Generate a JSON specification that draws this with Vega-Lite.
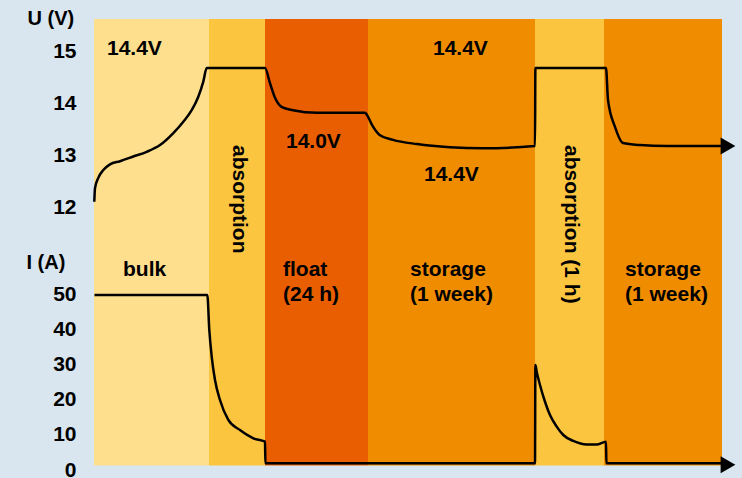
{
  "$schema": "https://vega.github.io/schema/vega-lite/v6.json",
  "width": 628,
  "height": 451,
  "autosize": {"type": "none"},
  "padding": {"left": 94, "top": 19, "right": 20, "bottom": 8},
  "background": "#d9e6ef",
  "config": {
    "view": {"stroke": null},
    "font": "Liberation Sans",
    "text": {"font": "Liberation Sans", "fontWeight": "bold", "fontSize": 21, "color": "#000000"}
  },
  "datasets": {
    "bands": [
      {"phase": "bulk", "t0": 0, "t1": 115, "top": 128.857, "bottom": 1.3},
      {"phase": "absorption", "t0": 115, "t1": 171, "top": 128.857, "bottom": 1.3},
      {"phase": "float", "t0": 171, "t1": 274, "top": 128.857, "bottom": 1.3},
      {"phase": "storage", "t0": 274, "t1": 441, "top": 128.857, "bottom": 1.3},
      {"phase": "absorption", "t0": 441, "t1": 510, "top": 128.857, "bottom": 1.3},
      {"phase": "storage", "t0": 510, "t1": 628, "top": 128.857, "bottom": 1.3}
    ],
    "current": [
      {"t": 0.5, "I": 50}, {"t": 113.3, "I": 50}, {"t": 115.3, "I": 40}, {"t": 117.7, "I": 32.4},
      {"t": 121, "I": 25.7}, {"t": 126, "I": 20}, {"t": 134.3, "I": 14.3}, {"t": 146, "I": 11.4},
      {"t": 159.3, "I": 9.06}, {"t": 171, "I": 8.1}, {"t": 171.4, "I": 1.9}, {"t": 441, "I": 1.9},
      {"t": 441.4, "I": 30}, {"t": 442.7, "I": 28.1}, {"t": 446, "I": 24.3}, {"t": 451, "I": 19.5},
      {"t": 456, "I": 15.7}, {"t": 462.7, "I": 12.4}, {"t": 469.3, "I": 10}, {"t": 479.3, "I": 8.3},
      {"t": 492.7, "I": 7.3}, {"t": 502.7, "I": 7.3}, {"t": 512, "I": 8.1},
      {"t": 512.4, "I": 1.9}, {"t": 628, "I": 1.9}
    ],
    "voltage": [
      {"t": 0.3, "V": 12.12}, {"t": 1, "V": 12.38}, {"t": 4.3, "V": 12.58}, {"t": 9.3, "V": 12.73},
      {"t": 16, "V": 12.84}, {"t": 26, "V": 12.9}, {"t": 39.3, "V": 12.99}, {"t": 52.7, "V": 13.08},
      {"t": 66, "V": 13.21}, {"t": 79.3, "V": 13.44}, {"t": 89.3, "V": 13.66}, {"t": 97.7, "V": 13.88},
      {"t": 104.3, "V": 14.14}, {"t": 109.3, "V": 14.43}, {"t": 112.7, "V": 14.69},
      {"t": 171, "V": 14.69}, {"t": 176, "V": 14.4}, {"t": 181, "V": 14.12}, {"t": 188, "V": 13.94},
      {"t": 199, "V": 13.88}, {"t": 223, "V": 13.83}, {"t": 271, "V": 13.83}, {"t": 273, "V": 13.79},
      {"t": 278, "V": 13.6}, {"t": 286, "V": 13.4}, {"t": 299, "V": 13.31}, {"t": 323, "V": 13.23},
      {"t": 356, "V": 13.17}, {"t": 389, "V": 13.15}, {"t": 441, "V": 13.19}, {"t": 441.4, "V": 14.69},
      {"t": 512, "V": 14.69}, {"t": 514, "V": 14.08}, {"t": 521, "V": 13.56}, {"t": 529, "V": 13.25},
      {"t": 546, "V": 13.21}, {"t": 573, "V": 13.19}, {"t": 628, "V": 13.19}
    ],
    "arrowI": [{"t": 634, "I": 1.5}],
    "arrowV": [{"t": 634, "V": 13.19}],
    "textI": [
      {"t": 29, "I": 57.14, "label": "bulk"},
      {"t": 189, "I": 57.14, "label": "float"},
      {"t": 189, "I": 50, "label": "(24 h)"},
      {"t": 316, "I": 57.14, "label": "storage"},
      {"t": 316, "I": 50, "label": "(1 week)"},
      {"t": 531, "I": 57.14, "label": "storage"},
      {"t": 531, "I": 50, "label": "(1 week)"}
    ],
    "textV": [
      {"t": 13, "V": 15.058, "label": "14.4V"},
      {"t": 192, "V": 13.269, "label": "14.0V"},
      {"t": 339, "V": 15.058, "label": "14.4V"},
      {"t": 330, "V": 12.635, "label": "14.4V"}
    ],
    "textRot": [
      {"t": 145, "V": 13.212, "label": "absorption"},
      {"t": 477, "V": 13.212, "label": "absorption (1 h)"}
    ]
  },
  "layer": [
    {
      "layer": [
        {
          "data": {"name": "bands"},
          "mark": {"type": "rect"},
          "encoding": {
            "x": {"field": "t0", "type": "quantitative", "scale": {"domain": [0, 628], "nice": false, "zero": false}, "axis": null},
            "x2": {"field": "t1"},
            "y": {"field": "top", "type": "quantitative", "scale": {"domain": [0, 128.857], "nice": false, "zero": false},
              "axis": {"orient": "left", "values": [0, 10, 20, 30, 40, 50], "title": "I (A)", "domain": false, "ticks": false, "grid": false,
                "labelPadding": 18, "labelFontSize": 21, "labelFontWeight": "bold", "labelColor": "#000000", "labelFont": "Liberation Sans",
                "labelFlush": false, "labelOverlap": false, "labelBound": false,
                "titleFont": "Liberation Sans", "titleFontSize": 20, "titleFontWeight": "bold", "titleColor": "#000000",
                "titleAngle": 0, "titleAlign": "left", "titleBaseline": "middle", "titleX": -68, "titleY": 243}},
            "y2": {"field": "bottom"},
            "color": {"field": "phase", "type": "nominal",
              "scale": {"domain": ["bulk", "absorption", "float", "storage"], "range": ["#fddf8e", "#fcc540", "#e95e00", "#f08c00"]},
              "legend": null}
          }
        },
        {
          "data": {"name": "current"},
          "mark": {"type": "line", "color": "#000000", "strokeWidth": 2.5, "interpolate": "monotone"},
          "encoding": {
            "x": {"field": "t", "type": "quantitative"},
            "y": {"field": "I", "type": "quantitative"}
          }
        },
        {
          "data": {"name": "arrowI"},
          "mark": {"type": "point", "shape": "triangle-right", "filled": true, "color": "#000000", "opacity": 1, "size": 289},
          "encoding": {
            "x": {"field": "t", "type": "quantitative"},
            "y": {"field": "I", "type": "quantitative"}
          }
        },
        {
          "data": {"name": "textI"},
          "mark": {"type": "text", "align": "left", "baseline": "middle"},
          "encoding": {
            "x": {"field": "t", "type": "quantitative"},
            "y": {"field": "I", "type": "quantitative"},
            "text": {"field": "label"}
          }
        }
      ]
    },
    {
      "layer": [
        {
          "data": {"name": "voltage"},
          "mark": {"type": "line", "color": "#000000", "strokeWidth": 2.5, "interpolate": "monotone"},
          "encoding": {
            "x": {"field": "t", "type": "quantitative"},
            "y": {"field": "V", "type": "quantitative", "scale": {"domain": [6.9615, 15.6346], "nice": false, "zero": false},
              "axis": {"orient": "left", "values": [12, 13, 14, 15], "title": "U (V)", "domain": false, "ticks": false, "grid": false,
                "labelPadding": 18, "labelFontSize": 21, "labelFontWeight": "bold", "labelColor": "#000000", "labelFont": "Liberation Sans",
                "labelFlush": false, "labelOverlap": false, "labelBound": false,
                "titleFont": "Liberation Sans", "titleFontSize": 20, "titleFontWeight": "bold", "titleColor": "#000000",
                "titleAngle": 0, "titleAlign": "left", "titleBaseline": "middle", "titleX": -67, "titleY": -1}}
          }
        },
        {
          "data": {"name": "arrowV"},
          "mark": {"type": "point", "shape": "triangle-right", "filled": true, "color": "#000000", "opacity": 1, "size": 289},
          "encoding": {
            "x": {"field": "t", "type": "quantitative"},
            "y": {"field": "V", "type": "quantitative"}
          }
        },
        {
          "data": {"name": "textV"},
          "mark": {"type": "text", "align": "left", "baseline": "middle"},
          "encoding": {
            "x": {"field": "t", "type": "quantitative"},
            "y": {"field": "V", "type": "quantitative"},
            "text": {"field": "label"}
          }
        },
        {
          "data": {"name": "textRot"},
          "mark": {"type": "text", "align": "left", "baseline": "middle", "angle": 90},
          "encoding": {
            "x": {"field": "t", "type": "quantitative"},
            "y": {"field": "V", "type": "quantitative"},
            "text": {"field": "label"}
          }
        }
      ]
    }
  ],
  "resolve": {"scale": {"y": "independent"}, "axis": {"y": "independent"}}
}
